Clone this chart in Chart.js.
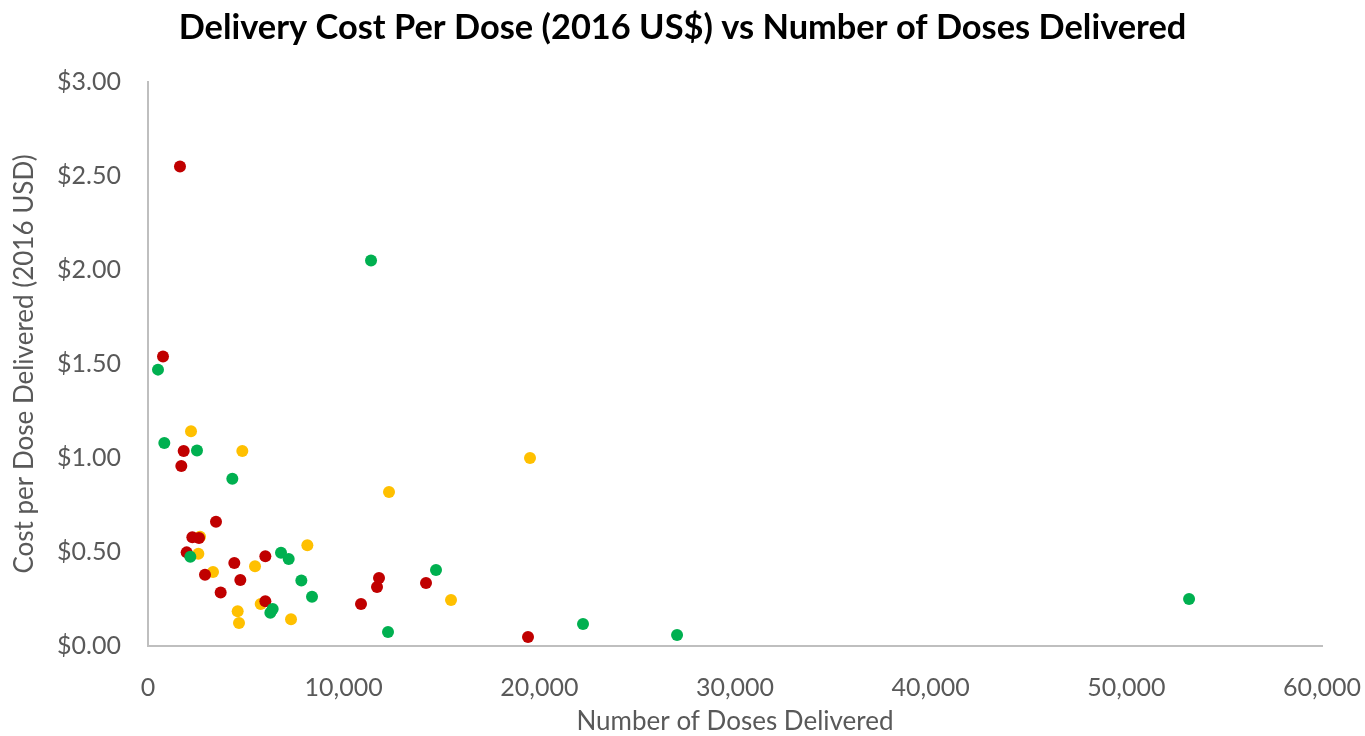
<!DOCTYPE html>
<html>
<head>
<meta charset="utf-8">
<script src="https://cdn.jsdelivr.net/npm/chart.js@4/dist/chart.umd.min.js"></script>
<style>
  html, body { margin: 0; padding: 0; background: #ffffff; }
  #wrap { width: 1365px; height: 736px; position: relative; }
</style>
</head>
<body>
<div id="wrap"><canvas id="c"></canvas></div>
<script>
// Doses delivered (x) and delivery cost per dose in 2016 US$ (y), per group
const greenDoses = [834, 2504, 4310, 2164, 6798, 7190, 7837, 8382, 6372, 6253, 11398, 511, 14720, 12267, 22233, 27038, 53206];
const greenCost  = [1.08, 1.04, 0.89, 0.475, 0.496, 0.463, 0.349, 0.262, 0.197, 0.177, 2.05, 1.47, 0.404, 0.074, 0.117, 0.059, 0.25];

const redDoses = [1635, 767, 1823, 1703, 3475, 2266, 2607, 1976, 5997, 4412, 2913, 4719, 3714, 5997, 11807, 11705, 14209, 10887, 19422];
const redCost  = [2.55, 1.54, 1.037, 0.957, 0.661, 0.578, 0.574, 0.498, 0.477, 0.441, 0.379, 0.351, 0.284, 0.238, 0.362, 0.314, 0.335, 0.223, 0.048];

const yellowDoses = [2198, 4820, 2658, 2573, 8144, 5469, 3322, 5760, 4583, 4651, 7309, 19524, 12318, 15487];
const yellowCost  = [1.142, 1.037, 0.581, 0.491, 0.536, 0.424, 0.394, 0.223, 0.185, 0.122, 0.142, 1.00, 0.819, 0.245];

const xTicks = [0, 10000, 20000, 30000, 40000, 50000, 60000];
const yTicks = [0, 0.5, 1.0, 1.5, 2.0, 2.5, 3.0];

const titleText = 'Delivery Cost Per Dose (2016 US$) vs Number of Doses Delivered';
const xTitle = 'Number of Doses Delivered';
const yTitle = 'Cost per Dose Delivered (2016 USD)';

const toPoints = (xs, ys) => xs.map((x, i) => ({ x: x, y: ys[i] }));

const FONT = 'Lato, "Open Sans", "Liberation Sans", sans-serif';
const TEXT = '#595959';
const AXIS = '#BFBFBF';

function series(label, xs, ys, color) {
  return {
    label: label,
    data: toPoints(xs, ys),
    backgroundColor: color,
    borderColor: color,
    borderWidth: 0,
    pointRadius: 6,
    pointHoverRadius: 6
  };
}

new Chart(document.getElementById('c'), {
  type: 'scatter',
  data: {
    datasets: [
      series('Group A', greenDoses, greenCost, '#00B050'),
      series('Group B', redDoses, redCost, '#C00000'),
      series('Group C', yellowDoses, yellowCost, '#FFC000')
    ]
  },
  options: {
    responsive: true,
    maintainAspectRatio: false,
    animation: false,
    layout: { padding: 0 },
    plugins: {
      legend: { display: false },
      tooltip: { enabled: false },
      title: {
        display: true,
        text: titleText,
        color: '#000000',
        font: { family: FONT, size: 34.4, weight: 'bold', lineHeight: 1.2 },
        padding: { top: 7, bottom: 33.7 }
      }
    },
    scales: {
      x: {
        type: 'linear',
        min: 0,
        max: 60000,
        // keep the plot's right edge 43px in from the canvas edge
        afterFit: s => { s.height = 90; s.paddingLeft = 0; s.paddingRight = 43; },
        afterBuildTicks: s => { s.ticks = xTicks.map(v => ({ value: v })); },
        grid: { display: false, drawTicks: false },
        border: { display: true, color: AXIS, width: 2 },
        ticks: {
          color: TEXT,
          padding: 27,
          maxRotation: 0,
          font: { family: FONT, size: 25 },
          callback: v => v.toLocaleString('en-US')
        },
        title: {
          display: true,
          text: xTitle,
          color: TEXT,
          font: { family: FONT, size: 26, lineHeight: 1.1 },
          padding: { top: 0, bottom: 0 }
        }
      },
      y: {
        type: 'linear',
        min: 0,
        max: 3,
        afterFit: s => { s.width = 148; s.paddingTop = 0; s.paddingBottom = 0; },
        afterBuildTicks: s => { s.ticks = yTicks.map(v => ({ value: v })); },
        grid: { display: false, drawTicks: false },
        border: { display: true, color: AXIS, width: 2 },
        ticks: {
          color: TEXT,
          padding: 27,
          font: { family: FONT, size: 25 },
          callback: v => '$' + Number(v).toFixed(2)
        },
        title: {
          display: true,
          text: yTitle,
          color: TEXT,
          font: { family: FONT, size: 26, lineHeight: 1.1 },
          padding: { top: 10, bottom: 0 }
        }
      }
    }
  }
});
</script>
</body>
</html>
